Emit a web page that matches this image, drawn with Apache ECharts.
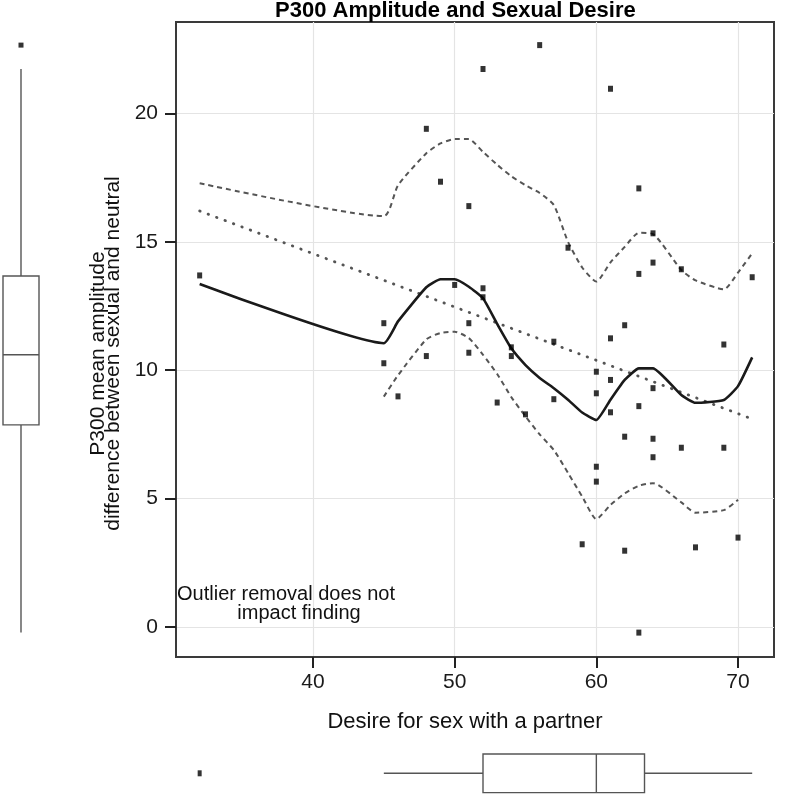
<!DOCTYPE html>
<html><head><meta charset="utf-8">
<script src="https://cdn.jsdelivr.net/npm/echarts@6/dist/echarts.min.js"></script>
<style>html,body{margin:0;padding:0;background:#fff}#c{width:788px;height:794px}</style>
</head><body><div id="c"></div>
<script>
// ---- data ----
const desire = [32,45,45,46,48,48,49,50,51,51,51,52,52,52,53,54,54,55,56,57,57,58,59,60,60,60,60,61,61,61,61,62,62,62,63,63,63,63,64,64,64,64,64,66,66,67,69,69,70,71];
const p300   = [13.69,11.83,10.27,8.98,10.55,19.4,17.34,13.32,16.39,11.83,10.68,21.73,13.19,12.84,8.74,10.89,10.55,8.28,22.66,11.11,8.87,14.77,3.22,9.94,9.10,6.24,5.66,20.96,11.24,9.62,8.36,11.75,7.41,2.97,17.08,13.75,8.60,-0.22,15.33,14.19,9.30,7.33,6.61,13.93,6.98,3.10,11.0,6.98,3.48,13.62];

const fitX      = [32,45,46,48,49,50,51,52,53,54,55,56,57,58,59,60,61,62,63,64,66,67,69,70,71];
const loessFit  = [13.36,11.05,11.9,13.23,13.54,13.54,13.25,12.8,11.8,10.85,10.2,9.7,9.3,8.85,8.35,8.06,8.85,9.62,10.07,10.07,9.03,8.73,8.84,9.38,10.5];
const upperBand = [17.28,16.0,17.2,18.45,18.83,19.0,19.0,18.5,18.0,17.55,17.2,16.9,16.43,15.0,14.0,13.45,14.2,14.8,15.35,15.3,13.9,13.5,13.15,13.8,14.55];
const lowerX    = [45,46,48,49,50,51,52,53,54,55,56,57,58,59,60,61,62,63,64,66,67,69,70];
const lowerBand = [8.97,9.8,11.2,11.45,11.5,11.25,10.6,9.85,8.95,8.2,7.5,6.89,6.0,5.08,4.2,4.75,5.2,5.5,5.6,4.85,4.45,4.55,4.95];
const linearX   = [32,71];
const linearFit = [16.2,8.1];

const xTicks = [40,50,60,70];
const yTicks = [0,5,10,15,20];

// boxplot summaries: [min whisker, Q1, median, Q3, max whisker]
const ampBox = [-0.22,7.87,10.6,13.67,21.73];
const ampOutliers = [22.66];
const desireBox = [45,52,60,63.4,71];
const desireOutliers = [32];

// ---- chart ----
const FONT = 'Liberation Sans, Arial, Helvetica, sans-serif';
const X_MIN = 30.33, X_MAX = 72.54, Y_MIN = -1.17, Y_MAX = 23.56;
const chart = echarts.init(document.getElementById('c'));
const boxStyle = {stroke:'#555', lineWidth:1.4, fill:'#fff'};

function vBox(p, api){
  const l = api.coord([0, api.value(1)])[0], r = api.coord([1, api.value(1)])[0];
  const cx = (l + r) / 2;
  const y = i => api.coord([0.5, api.value(i)])[1];
  return {type:'group', children:[
    {type:'line', shape:{x1:cx,y1:y(5),x2:cx,y2:y(4)}, style:boxStyle},
    {type:'line', shape:{x1:cx,y1:y(2),x2:cx,y2:y(1)}, style:boxStyle},
    {type:'rect', shape:{x:l,y:y(4),width:r-l,height:y(2)-y(4)}, style:boxStyle},
    {type:'line', shape:{x1:l,y1:y(3),x2:r,y2:y(3)}, style:boxStyle}
  ]};
}
function hBox(p, api){
  const t = api.coord([api.value(1), 1])[1], b = api.coord([api.value(1), 0])[1];
  const cy = (t + b) / 2;
  const x = i => api.coord([api.value(i), 0.5])[0];
  return {type:'group', children:[
    {type:'line', shape:{x1:x(1),y1:cy,x2:x(2),y2:cy}, style:boxStyle},
    {type:'line', shape:{x1:x(4),y1:cy,x2:x(5),y2:cy}, style:boxStyle},
    {type:'rect', shape:{x:x(2),y:t,width:x(4)-x(2),height:b-t}, style:boxStyle},
    {type:'line', shape:{x1:x(3),y1:t,x2:x(3),y2:b}, style:boxStyle}
  ]};
}

const option = {
  animation:false,
  title:{text:'P300 Amplitude and Sexual Desire', left:275, top:0, padding:0,
    textStyle:{fontSize:22, fontWeight:'bold', color:'#000', fontFamily:FONT}},
  grid:[
    {left:176, top:22, width:598, height:635, show:true, borderColor:'#3a3a3a', borderWidth:2},
    {left:3, top:22, width:36, height:635},
    {left:176, top:754, width:598, height:38.6}
  ],
  xAxis:[
    {gridIndex:0, type:'value', min:X_MIN, max:X_MAX,
      name:'Desire for sex with a partner', nameLocation:'middle', nameGap:54,
      nameTextStyle:{fontSize:22, color:'#111', fontFamily:FONT, padding:[0,20,0,0]},
      axisLine:{show:true, onZero:false, lineStyle:{color:'#3a3a3a', width:2}},
      axisTick:{show:true, length:11, customValues:xTicks, lineStyle:{color:'#222', width:2}},
      axisLabel:{customValues:xTicks, margin:15, fontSize:21, color:'#1a1a1a', fontFamily:FONT},
      splitLine:{show:true, lineStyle:{color:'#e4e4e4', width:1.2}}},
    {gridIndex:1, type:'value', min:0, max:1, show:false},
    {gridIndex:2, type:'value', min:X_MIN, max:X_MAX, show:false}
  ],
  yAxis:[
    {gridIndex:0, type:'value', min:Y_MIN, max:Y_MAX,
      name:'P300 mean amplitude\ndifference between sexual and neutral', nameLocation:'middle', nameGap:54,
      nameTextStyle:{fontSize:21, lineHeight:15, color:'#111', fontFamily:FONT, padding:[0,28,0,0]},
      axisLine:{show:true, lineStyle:{color:'#3a3a3a', width:2}},
      axisTick:{show:true, length:11, customValues:yTicks, lineStyle:{color:'#222', width:2}},
      axisLabel:{customValues:yTicks, margin:18, fontSize:21, color:'#1a1a1a', fontFamily:FONT},
      splitLine:{show:true, lineStyle:{color:'#e4e4e4', width:1.2}}},
    {gridIndex:1, type:'value', min:Y_MIN, max:Y_MAX, show:false},
    {gridIndex:2, type:'value', min:0, max:1, show:false}
  ],
  graphic:[
    {type:'text', x:286, y:594, z:10, style:{text:'Outlier removal does not', align:'center', verticalAlign:'middle', fontSize:20, fontFamily:FONT, fill:'#111'}},
    {type:'text', x:299, y:613, z:10, style:{text:'impact finding', align:'center', verticalAlign:'middle', fontSize:20, fontFamily:FONT, fill:'#111'}}
  ],
  series:[
    {type:'line', xAxisIndex:0, yAxisIndex:0, data:linearX.map((x,i)=>[x,linearFit[i]]), showSymbol:false, silent:true,
      lineStyle:{color:'#555', width:2.8, type:[0.5,8.5], cap:'round'}},
    {type:'line', xAxisIndex:0, yAxisIndex:0, data:fitX.map((x,i)=>[x,upperBand[i]]), showSymbol:false, smooth:0.2, silent:true,
      lineStyle:{color:'#555', width:2, type:[5,4]}},
    {type:'line', xAxisIndex:0, yAxisIndex:0, data:lowerX.map((x,i)=>[x,lowerBand[i]]), showSymbol:false, smooth:0.2, silent:true,
      lineStyle:{color:'#555', width:2, type:[5,4]}},
    {type:'line', xAxisIndex:0, yAxisIndex:0, data:fitX.map((x,i)=>[x,loessFit[i]]), showSymbol:false, smooth:0.15, silent:true,
      lineStyle:{color:'#1a1a1a', width:2.6}},
    {type:'scatter', xAxisIndex:0, yAxisIndex:0, data:desire.map((x,i)=>[x,p300[i]]), symbol:'rect', symbolSize:[5,6],
      itemStyle:{color:'#000'}, z:5},
    {type:'custom', xAxisIndex:1, yAxisIndex:1, renderItem:vBox, data:[[0.5].concat(ampBox)], silent:true},
    {type:'scatter', xAxisIndex:1, yAxisIndex:1, data:ampOutliers.map(v=>[0.5,v]), symbol:'rect', symbolSize:[5,5], itemStyle:{color:'#000'}},
    {type:'custom', xAxisIndex:2, yAxisIndex:2, renderItem:hBox, data:[[0.5].concat(desireBox)], silent:true},
    {type:'scatter', xAxisIndex:2, yAxisIndex:2, data:desireOutliers.map(v=>[v,0.5]), symbol:'rect', symbolSize:[4,6], itemStyle:{color:'#000'}}
  ]
};
chart.setOption(option);
</script></body></html>
